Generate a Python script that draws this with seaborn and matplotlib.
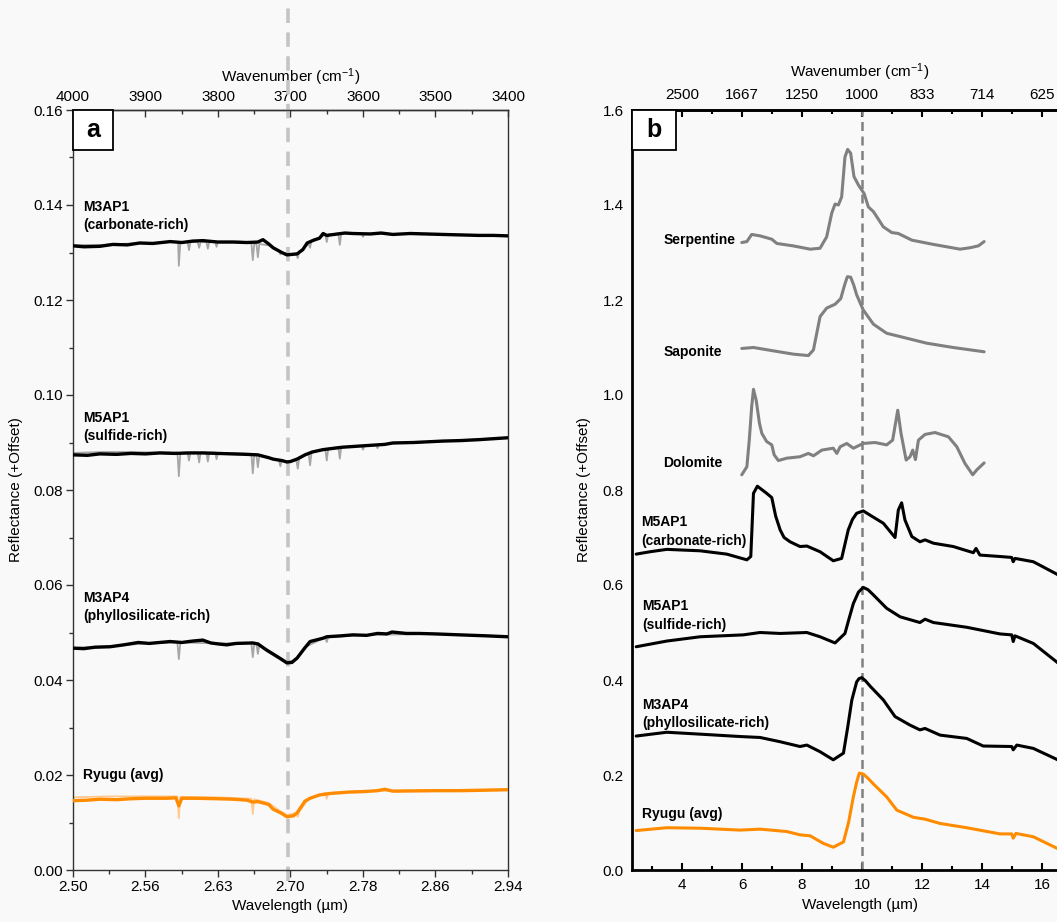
import numpy as np
import pandas as pd
import seaborn as sns
import matplotlib.pyplot as plt
from matplotlib.patches import Rectangle
import matplotlib.transforms as mtransforms

# ---------------- panel a (x = wavenumber, cm-1) ----------------
a_wn_ticks = [4000, 3900, 3800, 3700, 3600, 3500, 3400]
a_wl_labels = ['2.50', '2.56', '2.63', '2.70', '2.78', '2.86', '2.94']

m3ap1_wn = [4000, 3985, 3963, 3945, 3925, 3908, 3890, 3866, 3850, 3835, 3821, 3800, 3779, 3760, 3745,
            3738, 3730, 3724, 3712, 3705, 3691, 3683, 3677, 3668, 3660, 3655, 3650, 3640, 3625, 3614,
            3590, 3575, 3559, 3535, 3512, 3490, 3466, 3440, 3420, 3400]
m3ap1_val = [0.1314, 0.1312, 0.1313, 0.1317, 0.1316, 0.1320, 0.1319, 0.1323, 0.1321, 0.1324, 0.1325,
             0.1322, 0.1322, 0.1321, 0.1322, 0.1327, 0.1318, 0.1310, 0.1300, 0.1295, 0.1297, 0.1306,
             0.1320, 0.1326, 0.1330, 0.1340, 0.1336, 0.1338, 0.1341, 0.1340, 0.1339, 0.1341, 0.1338,
             0.1340, 0.1339, 0.1338, 0.1337, 0.1336, 0.1336, 0.1335]
m3ap1_raw_wn = [4000, 3960, 3920, 3880, 3860, 3855, 3854, 3852, 3842, 3840, 3838, 3828, 3826, 3824,
                3816, 3814, 3812, 3804, 3802, 3800, 3770, 3754, 3752, 3750, 3747, 3745, 3743, 3730,
                3716, 3714, 3712, 3700, 3692, 3690, 3688, 3675, 3673, 3671, 3652, 3650, 3648, 3634,
                3632, 3630, 3602, 3600, 3598, 3550, 3500, 3450, 3400]
m3ap1_raw_val = [0.1316, 0.1316, 0.1319, 0.1321, 0.1322, 0.1322, 0.1272, 0.1321, 0.1322, 0.1305, 0.1322,
                 0.1322, 0.1310, 0.1322, 0.1322, 0.1308, 0.1323, 0.1323, 0.1312, 0.1323, 0.1323, 0.1320,
                 0.1284, 0.1318, 0.1318, 0.1290, 0.1318, 0.1315, 0.1303, 0.1296, 0.1300, 0.1297, 0.1298,
                 0.1288, 0.1302, 0.1318, 0.1310, 0.1325, 0.1337, 0.1322, 0.1338, 0.1340, 0.1316, 0.1340,
                 0.1340, 0.1333, 0.1340, 0.1339, 0.1338, 0.1337, 0.1335]

m5ap1_wn = [4000, 3980, 3963, 3940, 3920, 3900, 3880, 3860, 3840, 3821, 3800, 3780, 3760, 3745, 3730,
            3724, 3712, 3705, 3700, 3691, 3680, 3670, 3655, 3629, 3600, 3570, 3559, 3530, 3490, 3466,
            3440, 3420, 3400]
m5ap1_val = [0.0874, 0.0873, 0.0876, 0.0875, 0.0877, 0.0876, 0.0878, 0.0877, 0.0878, 0.0878, 0.0877,
             0.0876, 0.0875, 0.0874, 0.0868, 0.0865, 0.0862, 0.0859, 0.0860, 0.0865, 0.0874, 0.0880,
             0.0885, 0.0890, 0.0893, 0.0896, 0.0899, 0.0900, 0.0903, 0.0904, 0.0906, 0.0908, 0.0910]
m5ap1_raw_wn = [4000, 3960, 3920, 3880, 3856, 3854, 3852, 3842, 3840, 3838, 3828, 3826, 3824, 3816,
                3814, 3812, 3804, 3802, 3800, 3770, 3754, 3752, 3750, 3747, 3745, 3743, 3730, 3716,
                3714, 3712, 3700, 3692, 3690, 3688, 3675, 3673, 3671, 3652, 3650, 3648, 3634, 3632,
                3630, 3602, 3600, 3598, 3582, 3580, 3578, 3550, 3500, 3450, 3400]
m5ap1_raw_val = [0.0878, 0.0880, 0.0880, 0.0879, 0.0879, 0.0829, 0.0878, 0.0879, 0.0862, 0.0879, 0.0879,
                 0.0858, 0.0879, 0.0879, 0.0860, 0.0879, 0.0879, 0.0865, 0.0878, 0.0877, 0.0876, 0.0835,
                 0.0875, 0.0874, 0.0848, 0.0872, 0.0868, 0.0863, 0.0850, 0.0862, 0.0860, 0.0864, 0.0845,
                 0.0866, 0.0877, 0.0852, 0.0879, 0.0886, 0.0862, 0.0887, 0.0890, 0.0866, 0.0890, 0.0893,
                 0.0885, 0.0893, 0.0895, 0.0888, 0.0896, 0.0899, 0.0902, 0.0906, 0.0910]

m3ap4_wn = [4000, 3985, 3970, 3949, 3930, 3910, 3895, 3866, 3850, 3835, 3821, 3810, 3800, 3788, 3775,
            3752, 3745, 3733, 3715, 3705, 3698, 3691, 3680, 3673, 3655, 3650, 3630, 3614, 3595, 3580,
            3567, 3560, 3540, 3523, 3500, 3466, 3430, 3400]
m3ap4_val = [0.0467, 0.0466, 0.0469, 0.0470, 0.0474, 0.0479, 0.0477, 0.0481, 0.0479, 0.0482, 0.0484,
             0.0478, 0.0476, 0.0474, 0.0477, 0.0478, 0.0476, 0.0463, 0.0446, 0.0436, 0.0437, 0.0446,
             0.0468, 0.0481, 0.0488, 0.0491, 0.0493, 0.0495, 0.0494, 0.0498, 0.0497, 0.0501, 0.0498,
             0.0498, 0.0497, 0.0495, 0.0493, 0.0491]
m3ap4_raw_wn = [4000, 3950, 3900, 3856, 3854, 3852, 3800, 3754, 3752, 3750, 3747, 3745, 3743, 3733,
                3715, 3705, 3698, 3691, 3680, 3652, 3650, 3648, 3600, 3500, 3400]
m3ap4_raw_val = [0.0468, 0.0471, 0.0477, 0.0479, 0.0444, 0.0479, 0.0477, 0.0478, 0.0448, 0.0477, 0.0476,
                 0.0455, 0.0474, 0.0465, 0.0448, 0.0439, 0.0440, 0.0448, 0.0469, 0.0490, 0.0480, 0.0490,
                 0.0495, 0.0497, 0.0491]

ryugu_a_wn = [4000, 3980, 3963, 3940, 3920, 3900, 3870, 3858, 3854, 3850, 3830, 3800, 3779, 3760, 3752,
              3745, 3730, 3724, 3712, 3705, 3696, 3691, 3680, 3673, 3660, 3646, 3620, 3600, 3580, 3570,
              3559, 3500, 3466, 3430, 3400]
ryugu_a_val = [0.0146, 0.0147, 0.0149, 0.0148, 0.0150, 0.0151, 0.0151, 0.0152, 0.0135, 0.0151, 0.0151,
               0.0150, 0.0149, 0.0147, 0.0143, 0.0144, 0.0138, 0.0128, 0.0119, 0.0112, 0.0114, 0.0120,
               0.0145, 0.0151, 0.0158, 0.0161, 0.0164, 0.0165, 0.0167, 0.0170, 0.0166, 0.0167, 0.0167,
               0.0168, 0.0169]
ryugu_a_raw_wn = [4000, 3950, 3900, 3856, 3854, 3852, 3800, 3754, 3752, 3750, 3730, 3715, 3705, 3692,
                  3690, 3688, 3675, 3652, 3650, 3648, 3600, 3500, 3400]
ryugu_a_raw_val = [0.0153, 0.0155, 0.0155, 0.0155, 0.0109, 0.0154, 0.0153, 0.0150, 0.0118, 0.0149,
                   0.0141, 0.0125, 0.0116, 0.0120, 0.0112, 0.0123, 0.0150, 0.0162, 0.0150, 0.0162,
                   0.0166, 0.0168, 0.0170]

# ---------------- panel b (x = wavelength, um) ----------------
b_wl_ticks = [4, 6, 8, 10, 12, 14, 16]
b_wn_labels = ['2500', '1667', '1250', '1000', '833', '714', '625']

serp_wl = [5.99, 6.16, 6.32, 6.6, 6.99, 7.16, 7.7, 8.27, 8.6, 8.82, 8.99, 9.1, 9.21, 9.32, 9.43, 9.52,
           9.62, 9.73, 9.88, 10.07, 10.21, 10.38, 10.71, 10.99, 11.21, 11.66, 12.38, 13.27, 13.6,
           13.88, 14.07]
serp_val = [1.321, 1.323, 1.338, 1.335, 1.328, 1.319, 1.314, 1.307, 1.309, 1.333, 1.383, 1.402, 1.400,
            1.417, 1.501, 1.517, 1.509, 1.460, 1.442, 1.424, 1.396, 1.386, 1.354, 1.342, 1.340, 1.326,
            1.317, 1.307, 1.310, 1.314, 1.323]

sapo_wl = [5.99, 6.38, 7.04, 7.71, 8.21, 8.38, 8.6, 8.82, 9.1, 9.29, 9.42, 9.51, 9.62, 9.72, 9.82,
           10.04, 10.38, 10.82, 11.27, 12.16, 13.04, 14.07]
sapo_val = [1.098, 1.100, 1.093, 1.086, 1.083, 1.095, 1.165, 1.183, 1.191, 1.203, 1.232, 1.249, 1.248,
            1.232, 1.211, 1.179, 1.149, 1.130, 1.123, 1.109, 1.100, 1.091]

dolo_wl = [5.99, 6.16, 6.24, 6.32, 6.38, 6.47, 6.58, 6.66, 6.82, 6.99, 7.07, 7.21, 7.49, 7.93, 8.21,
           8.38, 8.66, 9.04, 9.16, 9.27, 9.49, 9.71, 10.04, 10.43, 10.82, 11.02, 11.19, 11.3, 11.47,
           11.6, 11.69, 11.78, 11.88, 12.1, 12.43, 12.88, 13.16, 13.43, 13.69, 13.82, 14.07]
dolo_val = [0.832, 0.849, 0.905, 0.975, 1.012, 0.989, 0.940, 0.919, 0.902, 0.895, 0.874, 0.862, 0.867,
            0.870, 0.877, 0.872, 0.884, 0.888, 0.877, 0.891, 0.898, 0.888, 0.898, 0.900, 0.895, 0.905,
            0.968, 0.919, 0.863, 0.870, 0.884, 0.864, 0.905, 0.917, 0.921, 0.912, 0.891, 0.856, 0.832,
            0.842, 0.857]

carb_wl = [2.47, 2.93, 3.49, 4.6, 5.49, 6.16, 6.29, 6.38, 6.51, 6.82, 6.99, 7.12, 7.27, 7.4, 7.6, 7.93,
           8.16, 8.6, 9.04, 9.32, 9.54, 9.68, 9.82, 10.04, 10.32, 10.71, 11.1, 11.21, 11.32, 11.43,
           11.66, 11.93, 12.1, 12.38, 13.04, 13.71, 13.8, 13.93, 14.6, 14.99, 15.04, 15.1, 15.71,
           16.49, 17.0]
carb_val = [0.665, 0.670, 0.675, 0.672, 0.665, 0.653, 0.660, 0.793, 0.808, 0.793, 0.784, 0.745, 0.716,
            0.700, 0.691, 0.681, 0.682, 0.670, 0.651, 0.656, 0.716, 0.738, 0.751, 0.756, 0.745, 0.730,
            0.700, 0.758, 0.773, 0.737, 0.702, 0.691, 0.695, 0.688, 0.681, 0.668, 0.677, 0.663, 0.660,
            0.658, 0.649, 0.656, 0.649, 0.623, 0.600]

sulf_wl = [2.47, 3.49, 4.6, 6.04, 6.6, 7.27, 8.16, 8.6, 9.1, 9.43, 9.57, 9.71, 9.88, 10.04, 10.2,
           10.38, 10.82, 11.27, 11.93, 12.1, 12.38, 13.49, 14.6, 14.99, 15.04, 15.1, 15.71, 16.49, 17.0]
sulf_val = [0.470, 0.482, 0.491, 0.495, 0.500, 0.498, 0.500, 0.491, 0.478, 0.498, 0.530, 0.561, 0.585,
            0.595, 0.590, 0.579, 0.551, 0.533, 0.521, 0.528, 0.521, 0.511, 0.497, 0.495, 0.481, 0.493,
            0.477, 0.438, 0.410]

phyl_wl = [2.47, 3.49, 4.6, 5.93, 6.6, 7.27, 7.93, 8.16, 8.6, 9.04, 9.38, 9.52, 9.66, 9.82, 9.9, 9.99,
           10.12, 10.27, 10.71, 11.1, 11.6, 11.93, 12.1, 12.6, 13.49, 14.04, 14.99, 15.04, 15.16,
           15.71, 16.49, 17.0]
phyl_val = [0.282, 0.290, 0.286, 0.281, 0.279, 0.270, 0.260, 0.263, 0.249, 0.232, 0.246, 0.300, 0.358,
            0.396, 0.403, 0.405, 0.398, 0.387, 0.358, 0.323, 0.305, 0.295, 0.298, 0.284, 0.277, 0.261,
            0.260, 0.253, 0.263, 0.256, 0.233, 0.215]

ryugu_b_wl = [2.47, 3.49, 4.6, 5.93, 6.6, 7.49, 7.93, 8.27, 8.71, 9.04, 9.38, 9.55, 9.71, 9.82, 9.91,
              10.04, 10.2, 10.38, 10.82, 11.16, 11.71, 12.1, 12.6, 13.49, 14.6, 14.99, 15.04, 15.13,
              15.71, 16.49, 17.0]
ryugu_b_val = [0.083, 0.089, 0.088, 0.084, 0.086, 0.081, 0.074, 0.072, 0.056, 0.048, 0.059, 0.100,
               0.154, 0.185, 0.204, 0.202, 0.193, 0.181, 0.154, 0.126, 0.111, 0.107, 0.098, 0.089,
               0.076, 0.076, 0.067, 0.077, 0.070, 0.046, 0.030]

sns.set_theme(style='ticks')
plt.rcParams['font.family'] = ['Liberation Sans', 'DejaVu Sans']
plt.rcParams['mathtext.default'] = 'regular'
plt.rcParams['text.color'] = 'black'
plt.rcParams['axes.labelcolor'] = 'black'
plt.rcParams['xtick.color'] = 'black'
plt.rcParams['ytick.color'] = 'black'

BG = '#f9f9f9'
ORANGE = '#ff8c00'
fig = plt.figure(figsize=(10.57, 9.22), dpi=100, facecolor=BG)

ax_a = fig.add_axes([73 / 1057, 52 / 922, 435 / 1057, 760 / 922], facecolor=BG)
ax_b = fig.add_axes([632 / 1057, 52 / 922, 455 / 1057, 760 / 922], facecolor=BG)


def draw(ax, x, y, color, lw, z=3):
    df = pd.DataFrame({'x': x, 'y': y})
    sns.lineplot(data=df, x='x', y='y', sort=False, estimator=None, ax=ax,
                 color=color, lw=lw, zorder=z)


# ---- panel a
draw(ax_a, m3ap1_raw_wn, m3ap1_raw_val, '#a6a6a6', 1.3, 2)
draw(ax_a, m3ap1_wn, m3ap1_val, 'black', 2.4)
draw(ax_a, m5ap1_raw_wn, m5ap1_raw_val, '#a6a6a6', 1.3, 2)
draw(ax_a, m5ap1_wn, m5ap1_val, 'black', 2.4)
draw(ax_a, m3ap4_raw_wn, m3ap4_raw_val, '#a6a6a6', 1.3, 2)
draw(ax_a, m3ap4_wn, m3ap4_val, 'black', 2.4)
draw(ax_a, ryugu_a_raw_wn, ryugu_a_raw_val, '#ffc98f', 1.3, 2)
draw(ax_a, ryugu_a_wn, ryugu_a_val, ORANGE, 2.4)

trans_a = mtransforms.blended_transform_factory(ax_a.transData, ax_a.transAxes)
ax_a.plot([10000 / 2.70, 10000 / 2.70], [-0.015, 1.135], transform=trans_a, clip_on=False,
          color='#c4c4c4', lw=2.6, ls=(0, (4, 2.6)), zorder=1)

ax_a.set_xlim(4000, 3400)
ax_a.set_ylim(0, 0.16)
ax_a.set_xticks(a_wn_ticks)
ax_a.set_xticklabels(a_wl_labels)
ax_a.set_xticks(np.arange(3450, 4000, 100), minor=True)
ax_a.set_yticks(np.arange(0, 0.161, 0.02))
ax_a.set_yticklabels([f'{v:.2f}' for v in np.arange(0, 0.161, 0.02)])
ax_a.set_yticks(np.arange(0.01, 0.16, 0.02), minor=True)
ax_a.tick_params(axis='both', which='major', direction='out', length=5, width=1, labelsize=11,
                 color='#333333', pad=2)
ax_a.tick_params(axis='both', which='minor', direction='out', length=3, width=1, color='#333333')
ax_a.set_xlabel('Wavelength (µm)', fontsize=11, labelpad=4)
ax_a.set_ylabel('Reflectance (+Offset)', fontsize=11, labelpad=8)
for s in ax_a.spines.values():
    s.set_visible(True)
    s.set_linewidth(1.0)
    s.set_color('#333333')

top_a = ax_a.secondary_xaxis('top')
top_a.set_xticks(a_wn_ticks)
top_a.set_xticklabels([str(t) for t in a_wn_ticks])
top_a.set_xticks(np.arange(3450, 4000, 100), minor=True)
top_a.tick_params(which='major', direction='in', length=5, width=1, labelsize=11, color='#333333', pad=4)
top_a.tick_params(which='minor', direction='in', length=3, width=1, color='#333333')
top_a.set_xlabel('Wavenumber (cm$^{-1}$)', fontsize=11, labelpad=6)
top_a.spines['top'].set_linewidth(1.0)

lab_kw = dict(fontsize=10, fontweight='bold', va='center', ha='left')
ax_a.text(3986, 0.1396, 'M3AP1', **lab_kw)
ax_a.text(3986, 0.1358, '(carbonate-rich)', **lab_kw)
ax_a.text(3986, 0.0952, 'M5AP1', **lab_kw)
ax_a.text(3986, 0.0914, '(sulfide-rich)', **lab_kw)
ax_a.text(3986, 0.0573, 'M3AP4', **lab_kw)
ax_a.text(3986, 0.0535, '(phyllosilicate-rich)', **lab_kw)
ax_a.text(3986, 0.0200, 'Ryugu (avg)', **lab_kw)

ax_a.add_patch(Rectangle((0, 1 - 40 / 760), 40 / 435, 40 / 760, transform=ax_a.transAxes,
                         facecolor='white', edgecolor='black', lw=1.3, zorder=5, clip_on=False))
ax_a.text(20 / 435, 1 - 20 / 760, 'a', transform=ax_a.transAxes, fontsize=18, fontweight='bold',
          ha='center', va='center', zorder=6)

# ---- panel b
draw(ax_b, serp_wl, serp_val, '#808080', 2.2)
draw(ax_b, sapo_wl, sapo_val, '#808080', 2.2)
draw(ax_b, dolo_wl, dolo_val, '#808080', 2.2)
draw(ax_b, carb_wl, carb_val, 'black', 2.2)
draw(ax_b, sulf_wl, sulf_val, 'black', 2.2)
draw(ax_b, phyl_wl, phyl_val, 'black', 2.2)
draw(ax_b, ryugu_b_wl, ryugu_b_val, ORANGE, 2.2)
ax_b.axvline(10, color='#808080', lw=1.8, ls=(0, (3.6, 2.2)), zorder=1)

ax_b.set_xlim(2.33, 17.5)
ax_b.set_ylim(0, 1.6)
ax_b.set_xticks(b_wl_ticks)
ax_b.set_xticklabels([str(t) for t in b_wl_ticks])
ax_b.set_xticks(np.arange(3, 18, 2), minor=True)
ax_b.set_yticks(np.arange(0, 1.61, 0.2))
ax_b.set_yticklabels([f'{v:.1f}' for v in np.arange(0, 1.61, 0.2)])
ax_b.tick_params(axis='x', which='major', direction='in', length=5, width=1.5, labelsize=11, pad=6)
ax_b.tick_params(axis='x', which='minor', direction='in', length=3, width=1.5)
ax_b.tick_params(axis='y', which='both', length=0, labelsize=11, pad=6)
ax_b.set_xlabel('Wavelength (µm)', fontsize=11, labelpad=4)
ax_b.set_ylabel('Reflectance (+Offset)', fontsize=11, labelpad=8)
for s in ax_b.spines.values():
    s.set_visible(True)
    s.set_linewidth(2.0)
    s.set_color('black')

top_b = ax_b.secondary_xaxis('top')
top_b.set_xticks(b_wl_ticks)
top_b.set_xticklabels(b_wn_labels)
top_b.set_xticks(np.arange(3, 18, 2), minor=True)
top_b.tick_params(which='major', direction='in', length=5, width=1.5, labelsize=11, pad=6)
top_b.tick_params(which='minor', direction='in', length=3, width=1.5)
top_b.set_xlabel('Wavenumber (cm$^{-1}$)', fontsize=11, labelpad=8)
top_b.spines['top'].set_linewidth(2.0)

lab_b = dict(fontsize=10, fontweight='bold', va='center', ha='left')
ax_b.text(3.37, 1.326, 'Serpentine', **lab_b)
ax_b.text(3.37, 1.091, 'Saponite', **lab_b)
ax_b.text(3.37, 0.857, 'Dolomite', **lab_b)
ax_b.text(2.63, 0.733, 'M5AP1', **lab_b)
ax_b.text(2.63, 0.693, '(carbonate-rich)', **lab_b)
ax_b.text(2.66, 0.556, 'M5AP1', **lab_b)
ax_b.text(2.66, 0.516, '(sulfide-rich)', **lab_b)
ax_b.text(2.66, 0.347, 'M3AP4', **lab_b)
ax_b.text(2.66, 0.309, '(phyllosilicate-rich)', **lab_b)
ax_b.text(2.66, 0.118, 'Ryugu (avg)', **lab_b)

ax_b.add_patch(Rectangle((0, 1 - 40 / 760), 44 / 455, 40 / 760, transform=ax_b.transAxes,
                         facecolor='white', edgecolor='black', lw=1.3, zorder=5, clip_on=False))
ax_b.text(22 / 455, 1 - 20 / 760, 'b', transform=ax_b.transAxes, fontsize=18, fontweight='bold',
          ha='center', va='center', zorder=6)

fig.savefig('out.png', dpi=100, facecolor=BG)
